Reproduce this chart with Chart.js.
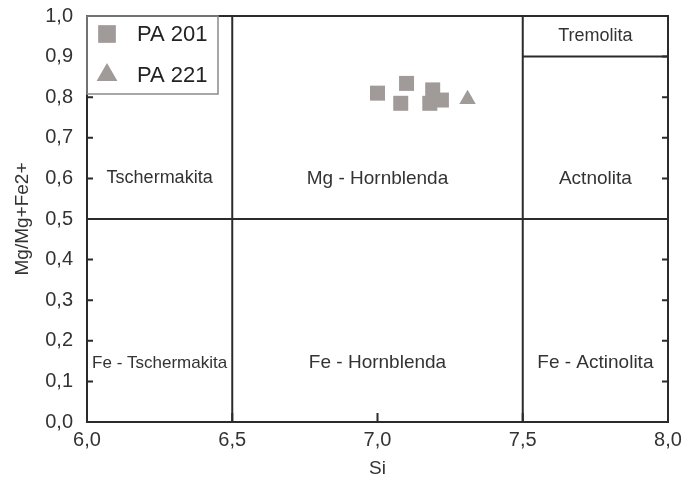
<!DOCTYPE html>
<html>
<head>
<meta charset="utf-8">
<script src="https://cdn.jsdelivr.net/npm/chart.js@4.4.1/dist/chart.umd.min.js"></script>
<style>
  html, body { margin: 0; padding: 0; background: #fff; }
  #wrap { width: 682px; height: 486px; }
</style>
</head>
<body>
<div id="wrap"><canvas id="chart" width="682" height="486"></canvas></div>
<script>
// --- données ---
const pa201 = [
  { x: 7.00, y: 0.810 },
  { x: 7.10, y: 0.834 },
  { x: 7.08, y: 0.785 },
  { x: 7.19, y: 0.818 },
  { x: 7.18, y: 0.785 },
  { x: 7.22, y: 0.793 },
];
const pa221 = [
  { x: 7.31, y: 0.795 },
];

// limites des champs (x1, y1, x2, y2)
const boundaries = [
  [6.0, 0.5, 8.0, 0.5],
  [6.5, 0.0, 6.5, 1.0],
  [7.5, 0.0, 7.5, 1.0],
  [7.5, 0.9, 8.0, 0.9],
];

// noms des champs
const fieldLabels = [
  { text: 'Tremolita', x: 7.75, y: 0.95, size: 18 },
  { text: 'Tschermakita', x: 6.25, y: 0.6, size: 18 },
  { text: 'Mg - Hornblenda', x: 7.0, y: 0.6, size: 19 },
  { text: 'Actnolita', x: 7.75, y: 0.6, size: 19 },
  { text: 'Fe - Tschermakita', x: 6.25, y: 0.145, size: 17 },
  { text: 'Fe - Hornblenda', x: 7.0, y: 0.145, size: 19 },
  { text: 'Fe - Actinolita', x: 7.75, y: 0.145, size: 19 },
];

const xTicks = [6.0, 6.5, 7.0, 7.5, 8.0];
const yTicks = [0.0, 0.1, 0.2, 0.3, 0.4, 0.5, 0.6, 0.7, 0.8, 0.9, 1.0];

const markColor = '#a09a99';
const lineColor = '#2b2b2b';
const FONT = 'Arial, "Liberation Sans", sans-serif';
const fmtComma = (v) => Number(v).toFixed(1).replace('.', ',');

const diagramPlugin = {
  id: 'diagram',
  beforeDatasetsDraw(chart) {
    const { ctx, chartArea: a, scales: { x, y } } = chart;
    ctx.save();
    ctx.strokeStyle = lineColor;
    ctx.lineWidth = 2;
    boundaries.forEach(([x1, y1, x2, y2]) => {
      ctx.beginPath();
      ctx.moveTo(x.getPixelForValue(x1), y.getPixelForValue(y1));
      ctx.lineTo(x.getPixelForValue(x2), y.getPixelForValue(y2));
      ctx.stroke();
    });
    ctx.strokeRect(a.left, a.top, a.right - a.left, a.bottom - a.top);

    // petits traits intérieurs
    yTicks.forEach((v) => {
      const py = y.getPixelForValue(v);
      ctx.beginPath();
      ctx.moveTo(a.left, py); ctx.lineTo(a.left + 6, py);
      ctx.moveTo(a.right, py); ctx.lineTo(a.right - 6, py);
      ctx.stroke();
    });
    xTicks.forEach((v) => {
      const px = x.getPixelForValue(v);
      ctx.beginPath();
      ctx.moveTo(px, a.bottom); ctx.lineTo(px, a.bottom - 9);
      ctx.stroke();
    });

    ctx.fillStyle = '#333';
    ctx.textAlign = 'center';
    ctx.textBaseline = 'middle';
    fieldLabels.forEach((l) => {
      ctx.font = l.size + 'px ' + FONT;
      ctx.fillText(l.text, x.getPixelForValue(l.x), y.getPixelForValue(l.y));
    });
    ctx.restore();
  },
  afterDatasetsDraw(chart) {
    const { ctx, chartArea: a } = chart;
    ctx.save();
    ctx.fillStyle = '#fff';
    ctx.fillRect(a.left + 1, a.top + 1, 130, 77);
    ctx.strokeStyle = '#8a8a8a';
    ctx.lineWidth = 1.5;
    ctx.strokeRect(a.left, a.top, 131, 78);
    ctx.restore();

    const items = [
      { label: 'PA 201', style: 'rect', radius: 12.5, cy: a.top + 18 },
      { label: 'PA 221', style: 'triangle', radius: 12, cy: a.top + 59 },
    ];
    items.forEach((it) => {
      ctx.save();
      ctx.fillStyle = markColor;
      ctx.strokeStyle = markColor;
      Chart.helpers.drawPoint(ctx, { pointStyle: it.style, radius: it.radius, borderWidth: 0 }, a.left + 20, it.cy);
      ctx.fillStyle = '#222';
      ctx.font = '22px ' + FONT;
      ctx.textAlign = 'left';
      ctx.textBaseline = 'middle';
      ctx.fillText(it.label, a.left + 50, it.cy + 1);
      ctx.restore();
    });
  },
};

new Chart(document.getElementById('chart'), {
  type: 'scatter',
  data: {
    datasets: [
      { label: 'PA 201', data: pa201, pointStyle: 'rect', pointRadius: 10.6, pointHoverRadius: 10.6,
        backgroundColor: markColor, borderColor: markColor, borderWidth: 0 },
      { label: 'PA 221', data: pa221, pointStyle: 'triangle', pointRadius: 9.5, pointHoverRadius: 9.5,
        backgroundColor: markColor, borderColor: markColor, borderWidth: 0 },
    ],
  },
  options: {
    responsive: false,
    animation: false,
    layout: { padding: { top: 16, right: 14, left: 0, bottom: 0 } },
    plugins: { legend: { display: false }, tooltip: { enabled: false } },
    scales: {
      x: {
        type: 'linear', min: 6, max: 8,
        afterBuildTicks: (s) => { s.ticks = xTicks.map((v) => ({ value: v })); },
        afterFit: (s) => { s.height = 64; s.paddingLeft = 0; s.paddingRight = 0; },
        grid: { display: false, drawTicks: false },
        border: { display: false },
        ticks: { color: '#333', font: { family: FONT, size: 20 }, padding: 6, callback: fmtComma, maxRotation: 0 },
        title: { display: true, text: 'Si', color: '#333', font: { family: FONT, size: 19 }, padding: { top: 0, bottom: 6 } },
      },
      y: {
        type: 'linear', min: 0, max: 1,
        afterBuildTicks: (s) => { s.ticks = yTicks.map((v) => ({ value: v })); },
        afterFit: (s) => { s.width = 87; s.paddingTop = 0; s.paddingBottom = 0; },
        grid: { display: false, drawTicks: false },
        border: { display: false },
        ticks: { color: '#333', font: { family: FONT, size: 20 }, padding: 14, callback: fmtComma },
        title: { display: true, text: 'Mg/Mg+Fe2+', color: '#333', font: { family: FONT, size: 19 }, padding: { top: 11, bottom: 0 } },
      },
    },
  },
  plugins: [diagramPlugin],
});
</script>
</body>
</html>
